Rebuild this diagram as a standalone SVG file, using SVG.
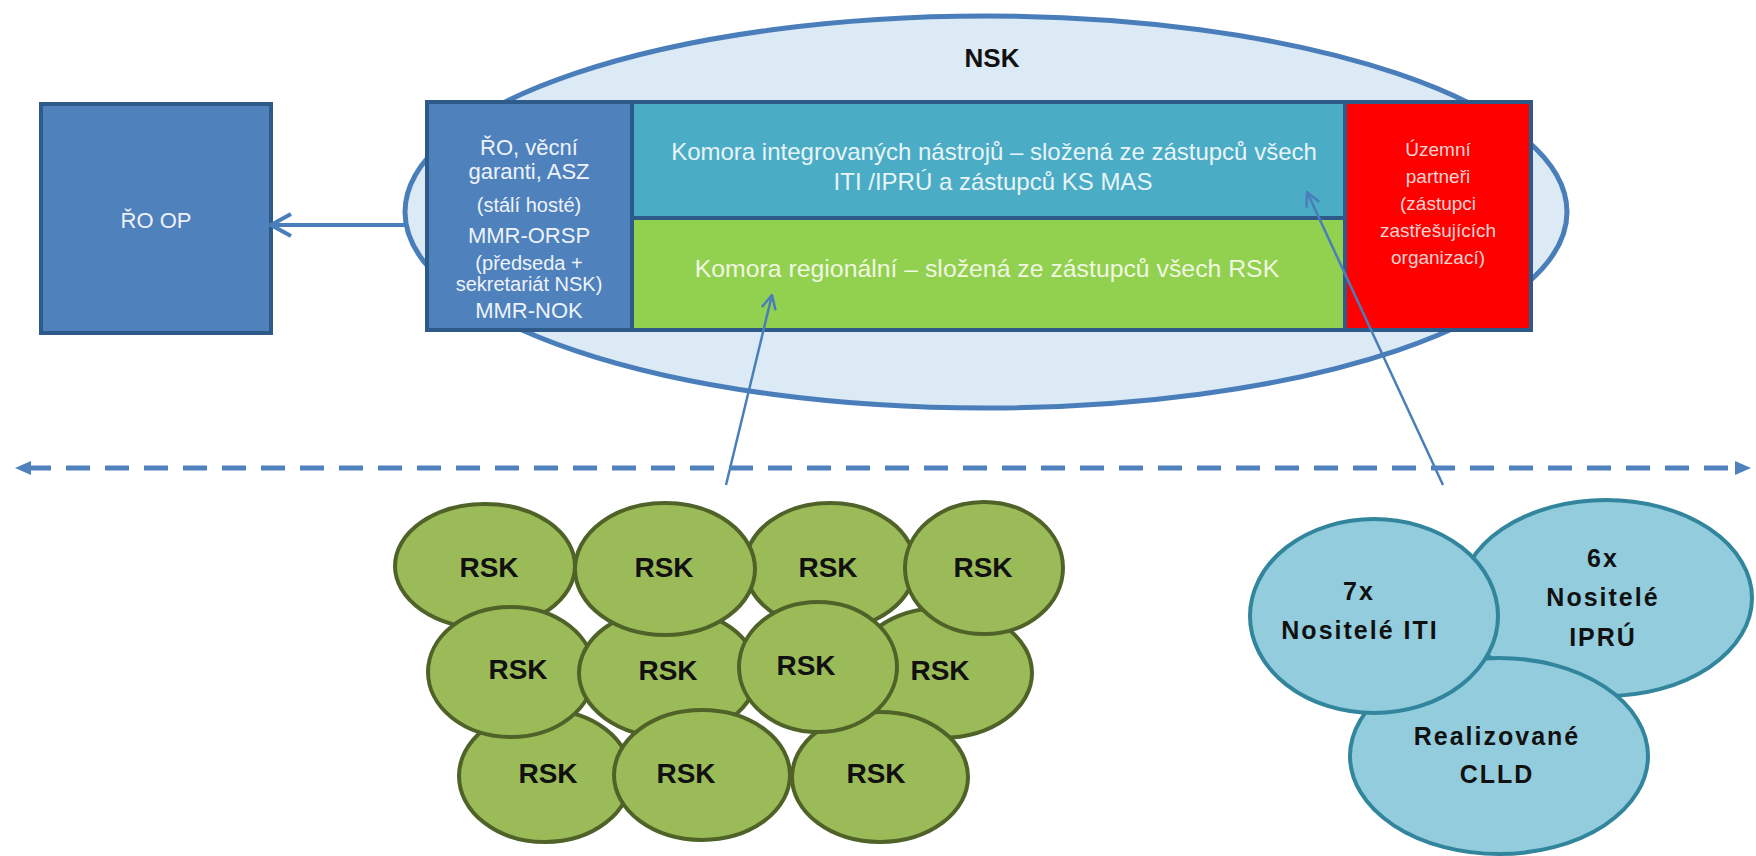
<svg xmlns="http://www.w3.org/2000/svg" width="1756" height="856" viewBox="0 0 1756 856">
<style>
text{font-family:"Liberation Sans",Arial,sans-serif;text-anchor:middle}
.box{stroke:#2e5a8a;stroke-width:4}
.w22{font-size:22px;fill:#eef3fa}
.w19{font-size:20px;fill:#eef3fa}
.red{font-size:19px;fill:#fad2d2}
.rsk{fill:#9bbb59;stroke:#4f6228;stroke-width:4}
.rskt{font-size:28px;font-weight:bold;fill:#111}
.nos{fill:#93cddd;stroke:#31859c;stroke-width:4}
.nost{font-size:25px;font-weight:bold;fill:#111;letter-spacing:2px}
.conn{stroke:#4a7ebb;fill:none}
</style>
<defs>
<marker id="openThin" viewBox="0 0 16 16" refX="15" refY="8" markerWidth="16" markerHeight="16" markerUnits="userSpaceOnUse" orient="auto">
<path d="M1,1 L15,8 L1,15" fill="none" stroke="#4a7ebb" stroke-width="2.5"/>
</marker>
<marker id="openThick" viewBox="0 0 24 26" refX="22" refY="13" markerWidth="24" markerHeight="26" markerUnits="userSpaceOnUse" orient="auto">
<path d="M2,2 L22,13 L2,24" fill="none" stroke="#4a7ebb" stroke-width="4"/>
</marker>
<marker id="tri" viewBox="0 0 16 16" refX="1" refY="8" markerWidth="16" markerHeight="16" markerUnits="userSpaceOnUse" orient="auto-start-reverse">
<path d="M0,1 L16,8 L0,15 z" fill="#4f81bd"/>
</marker>
</defs>

<g id="nsk">
<ellipse cx="986" cy="212" rx="581" ry="196" fill="#dbeaf4" stroke="#4a7ebb" stroke-width="5"/>
<text x="992" y="67" style="font-size:26px;font-weight:bold;fill:#111">NSK</text>
</g>

<g id="ro-op">
<rect x="41" y="104" width="230" height="229" fill="#4f81bd" class="box"/>
<text x="156" y="228" style="font-size:22px;fill:#eef2f8">ŘO OP</text>
</g>

<g id="stali-hoste">
<rect x="427" y="102" width="205" height="228" fill="#4f81bd" class="box"/>
<text x="529" y="155" class="w22">ŘO, věcní</text>
<text x="529" y="179" class="w22">garanti, ASZ</text>
<text x="529" y="212" class="w19">(stálí hosté)</text>
<text x="529" y="243" class="w22">MMR-ORSP</text>
<text x="529" y="270" class="w19">(předseda +</text>
<text x="529" y="291" class="w19">sekretariát NSK)</text>
<text x="529" y="318" class="w22">MMR-NOK</text>
</g>

<g id="komora-in">
<rect x="632" y="102" width="713" height="116" fill="#4bacc6" class="box"/>
<text x="994" y="160" style="font-size:24px;fill:#e8f4f7">Komora integrovaných nástrojů – složená ze zástupců všech</text>
<text x="993" y="190" style="font-size:24px;fill:#e8f4f7">ITI /IPRÚ a zástupců KS MAS</text>
</g>

<g id="komora-reg">
<rect x="632" y="218" width="713" height="112" fill="#92d050" class="box"/>
<text x="987" y="277" style="font-size:24.8px;fill:#f0f7e0">Komora regionální – složená ze zástupců všech RSK</text>
</g>

<g id="uzemni">
<rect x="1345" y="102" width="186" height="228" fill="#ff0000" class="box"/>
<text x="1438" y="156" class="red">Územní</text>
<text x="1438" y="183" class="red">partneři</text>
<text x="1438" y="210" class="red">(zástupci</text>
<text x="1438" y="237" class="red">zastřešujících</text>
<text x="1438" y="264" class="red">organizací)</text>
</g>

<g id="rsk-cluster">
<g id="rsk1"><ellipse cx="485" cy="566" rx="90" ry="62" class="rsk"/><text x="489" y="577" class="rskt">RSK</text></g>
<g id="rsk3"><ellipse cx="830" cy="566" rx="85" ry="63" class="rsk"/><text x="828" y="577" class="rskt">RSK</text></g>
<g id="rsk8"><ellipse cx="942" cy="673" rx="90" ry="65" class="rsk"/><text x="940" y="680" class="rskt">RSK</text></g>
<g id="rsk4"><ellipse cx="984" cy="568" rx="79" ry="66" class="rsk"/><text x="983" y="577" class="rskt">RSK</text></g>
<g id="rsk9"><ellipse cx="545" cy="776" rx="86" ry="66" class="rsk"/><text x="548" y="783" class="rskt">RSK</text></g>
<g id="rsk11"><ellipse cx="880" cy="777" rx="88" ry="65" class="rsk"/><text x="876" y="783" class="rskt">RSK</text></g>
<g id="rsk5"><ellipse cx="511" cy="672" rx="83" ry="65" class="rsk"/><text x="518" y="679" class="rskt">RSK</text></g>
<g id="rsk6"><ellipse cx="668" cy="673" rx="89" ry="64" class="rsk"/><text x="668" y="680" class="rskt">RSK</text></g>
<g id="rsk2"><ellipse cx="665" cy="569" rx="90" ry="66" class="rsk"/><text x="664" y="577" class="rskt">RSK</text></g>
<g id="rsk7"><ellipse cx="818" cy="667" rx="79" ry="65" class="rsk"/><text x="806" y="675" class="rskt">RSK</text></g>
<g id="rsk10"><ellipse cx="702" cy="775" rx="88" ry="65" class="rsk"/><text x="686" y="783" class="rskt">RSK</text></g>
</g>

<g id="nositele">
<g id="ipru"><ellipse cx="1606" cy="598" rx="146" ry="98" class="nos"/>
<text x="1603" y="567" class="nost">6x</text>
<text x="1603" y="606" class="nost">Nositelé</text>
<text x="1603" y="646" class="nost">IPRÚ</text></g>
<g id="clld"><ellipse cx="1499" cy="756" rx="149" ry="98" class="nos"/>
<text x="1497" y="745" class="nost">Realizované</text>
<text x="1497" y="783" class="nost">CLLD</text></g>
<g id="iti"><ellipse cx="1374" cy="616" rx="124" ry="97" class="nos"/>
<text x="1359" y="600" class="nost">7x</text>
<text x="1360" y="639" class="nost">Nositelé ITI</text></g>
</g>

<g id="connectors">
<line x1="405" y1="225" x2="271" y2="225" class="conn" stroke-width="4" marker-end="url(#openThick)"/>
<line x1="726" y1="485" x2="772" y2="295" class="conn" stroke-width="2.5" marker-end="url(#openThin)"/>
<line x1="1443" y1="485" x2="1307" y2="192" class="conn" stroke-width="2.5" marker-end="url(#openThin)"/>
<line x1="30" y1="468" x2="1736" y2="468" stroke="#4f81bd" stroke-width="5" stroke-dasharray="24 15" stroke-dashoffset="3" marker-start="url(#tri)" marker-end="url(#tri)"/>
</g>
</svg>
